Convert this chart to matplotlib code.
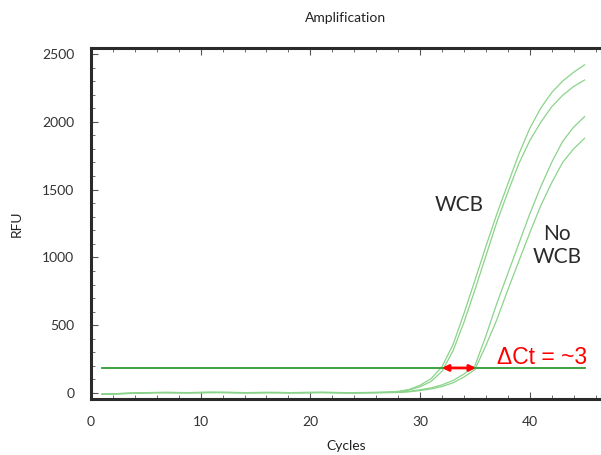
import matplotlib.pyplot as plt
from matplotlib.ticker import MultipleLocator

plt.rcParams['font.family'] = ['Lato', 'DejaVu Sans']

cycles = list(range(1, 46))

# RFU per cycle
wcb_a = [-8, -6, -3, 0, 2, 4, 5, 4, 3, 5, 6, 5, 4, 3, 4, 5, 4, 3, 4, 5, 5, 4, 3, 3, 4, 5, 7,
         12, 26, 57, 105, 194, 355, 585, 830, 1080, 1320, 1540, 1760, 1950, 2100, 2215, 2300, 2365, 2420]
wcb_b = [-7, -5, -2, 1, 3, 4, 4, 3, 3, 4, 5, 5, 4, 3, 3, 4, 4, 3, 3, 4, 5, 4, 3, 2, 3, 4, 6,
         10, 22, 46, 85, 160, 310, 520, 760, 1010, 1260, 1480, 1690, 1860, 1995, 2110, 2195, 2260, 2308]
nowcb_a = [-9, -7, -4, -1, 1, 3, 3, 2, 2, 3, 4, 4, 3, 2, 2, 3, 3, 2, 2, 3, 4, 3, 2, 1, 2, 3, 4,
           6, 12, 24, 38, 60, 92, 140, 200, 420, 660, 880, 1100, 1320, 1520, 1700, 1855, 1960, 2038]
nowcb_b = [-10, -8, -5, -2, 0, 2, 2, 1, 1, 2, 3, 3, 2, 1, 1, 2, 2, 1, 1, 2, 3, 2, 1, 0, 1, 2, 3,
           4, 9, 18, 30, 48, 75, 118, 172, 350, 540, 760, 970, 1180, 1380, 1550, 1700, 1800, 1878]

threshold = 185
threshold_span = [1, 45]
ct_wcb = 32.0
ct_nowcb = 35.1

fig = plt.figure(figsize=(6.01, 4.55), dpi=100)
ax = fig.add_axes([91 / 601, 56 / 455, 510 / 601, 351 / 455])

curve_color = '#8ad38a'
for series in (wcb_a, wcb_b, nowcb_a, nowcb_b):
    ax.plot(cycles, series, color=curve_color, linewidth=0.9)

ax.plot(threshold_span, [threshold, threshold], color='#2f9a35', linewidth=1.3)

ax.annotate('', xy=(ct_wcb, threshold), xytext=(ct_nowcb, threshold),
            arrowprops=dict(arrowstyle='<|-|>', color='red', lw=2,
                            mutation_scale=9, shrinkA=0, shrinkB=0))
ax.text(37.0, 260, 'ΔCt = ~3', color='red', fontsize=16.5,
        family=['Liberation Sans', 'DejaVu Sans'], ha='left', va='center')

ax.text(33.6, 1385, 'WCB', color='#2b2b2b', fontsize=15, ha='center', va='center')
ax.text(42.5, 1090, 'No\nWCB', color='#2b2b2b', fontsize=15, ha='center', va='center',
        linespacing=1.2)

ax.set_xlim(0, 46.5)
ax.set_ylim(-44, 2544)

ax.xaxis.set_major_locator(MultipleLocator(10))
ax.xaxis.set_minor_locator(MultipleLocator(2))
ax.yaxis.set_major_locator(MultipleLocator(500))
ax.yaxis.set_minor_locator(MultipleLocator(100))
ax.tick_params(which='both', direction='in', top=True, right=False,
               color='#555555', labelcolor='#333333', labelsize=10)
ax.tick_params(which='major', length=5, width=0.8)
ax.tick_params(which='minor', length=3, width=0.6)
ax.tick_params(axis='x', which='both', pad=12)
ax.tick_params(axis='y', which='both', pad=12)

for side in ('left', 'top', 'bottom'):
    ax.spines[side].set_linewidth(2.2)
    ax.spines[side].set_color('#2a2a2a')
ax.spines['right'].set_visible(False)

ax.set_xlabel('Cycles', fontsize=10, color='#222222', labelpad=9)
ax.set_ylabel('RFU', fontsize=10, color='#222222', labelpad=14)
ax.set_title('Amplification', fontsize=10, color='#222222', pad=19)

fig.savefig('out.png', dpi=100)
